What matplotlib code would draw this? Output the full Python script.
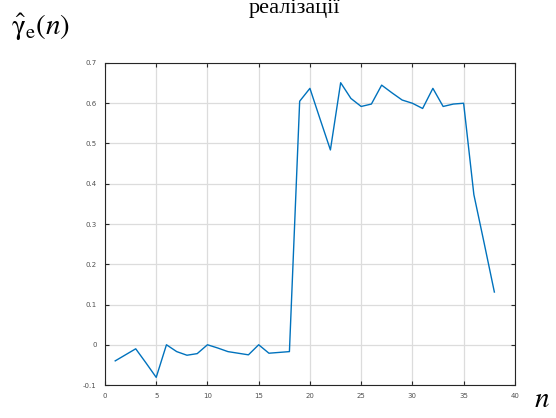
import numpy as np
import matplotlib.pyplot as plt

plt.rcParams['mathtext.fontset'] = 'stix'

# дані
n = list(range(1, 39))
gamma = [-0.040, -0.025, -0.010, -0.045, -0.081, 0.000, -0.017, -0.026, -0.022, 0.000,
         -0.008, -0.017, -0.021, -0.025, 0.000, -0.021, -0.019, -0.017, 0.605, 0.637,
         0.560, 0.484, 0.651, 0.612, 0.592, 0.598, 0.645, 0.626, 0.608, 0.600,
         0.587, 0.637, 0.592, 0.598, 0.600, 0.373, 0.253, 0.131]
xticks = [0, 5, 10, 15, 20, 25, 30, 35, 40]
yticks = [-0.1, 0, 0.1, 0.2, 0.3, 0.4, 0.5, 0.6, 0.7]
yticklabels = ['-0.1', '0', '0.1', '0.2', '0.3', '0.4', '0.5', '0.6', '0.7']

fig = plt.figure(figsize=(5.56, 4.18), dpi=100)
ax = fig.add_axes([0.1888, 0.0789, 0.7372, 0.7704])
ax.plot(n, gamma, color='#0072BD', linewidth=1.0)
ax.set_xlim(0, 40)
ax.set_ylim(-0.1, 0.7)
ax.set_xticks(xticks)
ax.set_yticks(yticks)
ax.set_yticklabels(yticklabels)
ax.grid(True, color='#dcdcdc', linewidth=0.9)
ax.tick_params(direction='in', top=True, right=True, labelsize=5, labelcolor='#505050',
               length=3, width=0.8, color='#262626', pad=6)
for s in ax.spines.values():
    s.set_color('#262626')
    s.set_linewidth(0.8)

fig.text(0.53, 0.969, 'реалізації', ha='center', va='baseline', fontsize=16,
         family='Liberation Serif')
fig.text(0.02, 0.935, r'$\hat{\mathrm{\gamma}}_{\mathrm{e}}(n)$', ha='left', va='center',
         fontsize=21)
fig.text(0.975, 0.045, r'$n$', ha='center', va='center', fontsize=21)

fig.savefig('out.png', dpi=100)
